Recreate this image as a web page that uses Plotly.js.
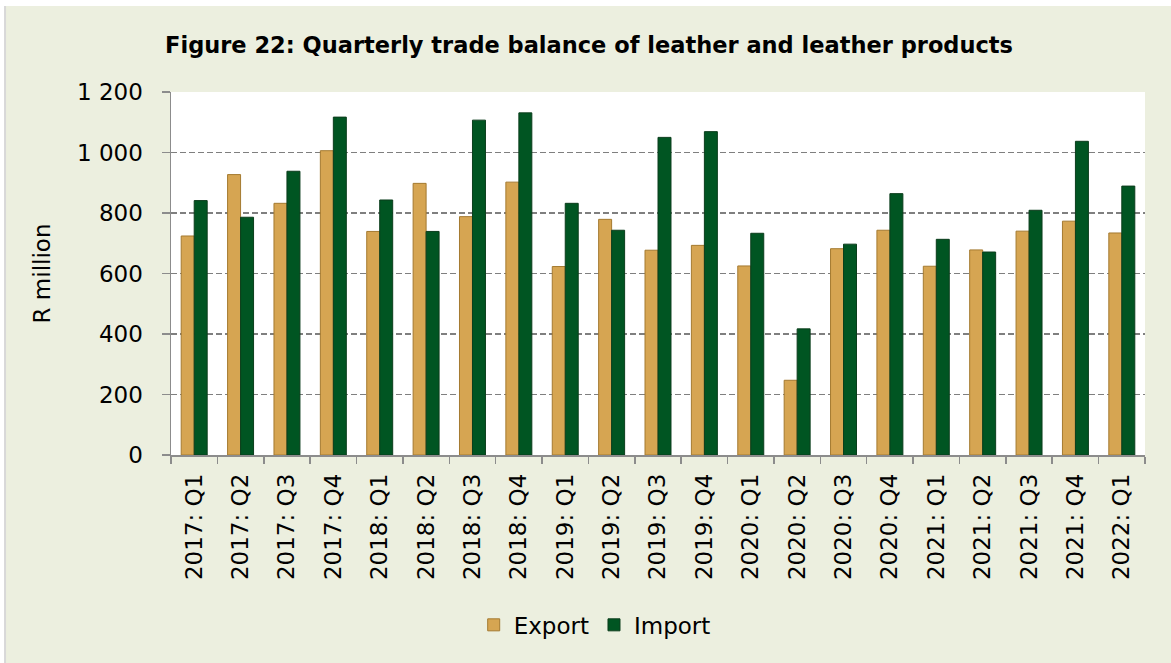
<!DOCTYPE html>
<html>
<head>
<meta charset="utf-8">
<script src="https://cdn.plot.ly/plotly-3.0.1.min.js"></script>
<style>html,body{margin:0;padding:0;background:#fff;}#chart{width:1171px;height:663px;}</style>
</head>
<body>
<div id="chart"></div>
<script>
const categories = ["2017: Q1","2017: Q2","2017: Q3","2017: Q4","2018: Q1","2018: Q2","2018: Q3","2018: Q4","2019: Q1","2019: Q2","2019: Q3","2019: Q4","2020: Q1","2020: Q2","2020: Q3","2020: Q4","2021: Q1","2021: Q2","2021: Q3","2021: Q4","2022: Q1"];
const exportValues = [724, 927, 832, 1006, 739, 898, 788, 902, 623, 779, 677, 693, 625, 247, 682, 743, 624, 678, 740, 773, 734];
const importValues = [841, 786, 938, 1117, 843, 739, 1107, 1131, 832, 743, 1050, 1069, 733, 417, 697, 864, 713, 671, 809, 1037, 889];
const yTickVals = [0, 200, 400, 600, 800, 1000, 1200];
const yTickText = ["0", "200", "400", "600", "800", "1 000", "1 200"];

const FONT = "'DejaVu Sans', sans-serif";

const traces = [
  {type: "bar", name: "Export", x: categories, y: exportValues,
   marker: {color: "#D6A552", line: {color: "#A47A30", width: 1}}},
  {type: "bar", name: "Import", x: categories, y: importValues,
   marker: {color: "#005522", line: {color: "#0B3D1C", width: 1}}}
];

const layout = {
  width: 1171, height: 663,
  margin: {l: 171, r: 26, t: 92, b: 208},
  paper_bgcolor: "#ffffff",
  plot_bgcolor: "rgba(0,0,0,0)",
  font: {family: FONT, color: "#000", size: 24},
  title: {text: "Figure 22: Quarterly trade balance of leather and leather products",
          font: {family: FONT, size: 22.5, weight: 700, color: "#000"},
          x: 0.503, xanchor: "center", y: 0.932, yanchor: "middle"},
  barmode: "group", bargap: 0.44, bargroupgap: 0,
  xaxis: {type: "category", tickangle: -90, tickson: "boundaries",
          ticks: "outside", ticklen: 7, tickcolor: "#8c8c8c", tickwidth: 1.5,
          ticklabelstandoff: 8,
          showline: true, linecolor: "#8c8c8c", linewidth: 1.5,
          showgrid: false, tickfont: {family: FONT, size: 23}},
  yaxis: {range: [0, 1200], tickvals: yTickVals, ticktext: yTickText,
          ticks: "outside", ticklen: 8, tickcolor: "#8c8c8c", tickwidth: 1.5,
          ticklabelstandoff: 14,
          showline: true, linecolor: "#8c8c8c", linewidth: 1.5,
          showgrid: true, gridcolor: "#7f7f7f", gridwidth: 1.5, griddash: "6px,3px",
          zeroline: false, tickfont: {family: FONT, size: 23},
          title: {text: "R million", font: {family: FONT, size: 23}, standoff: 20}},
  legend: {orientation: "h", x: 0.435, xanchor: "center", y: -0.468, yanchor: "middle",
           font: {family: FONT, size: 23}, bgcolor: "rgba(0,0,0,0)",
           itemwidth: 30, tracegroupgap: 0},
  shapes: [
    {type: "rect", xref: "paper", yref: "paper", x0: -0.1694, x1: 1.03, y0: -0.6, y1: 1.2369,
     fillcolor: "#ECEFDF", line: {width: 0}, layer: "below"},
    {type: "line", xref: "paper", yref: "paper", x0: -0.1704, x1: -0.1704, y0: -0.6, y1: 1.2369,
     line: {color: "#d8d8d8", width: 2}, layer: "below"},
    {type: "rect", xref: "paper", yref: "paper", x0: 0, x1: 1, y0: 0, y1: 1,
     fillcolor: "#ffffff", line: {width: 0}, layer: "below"}
  ],
  showlegend: true
};

Plotly.newPlot("chart", traces, layout, {displayModeBar: false, staticPlot: true});
</script>
</body>
</html>
